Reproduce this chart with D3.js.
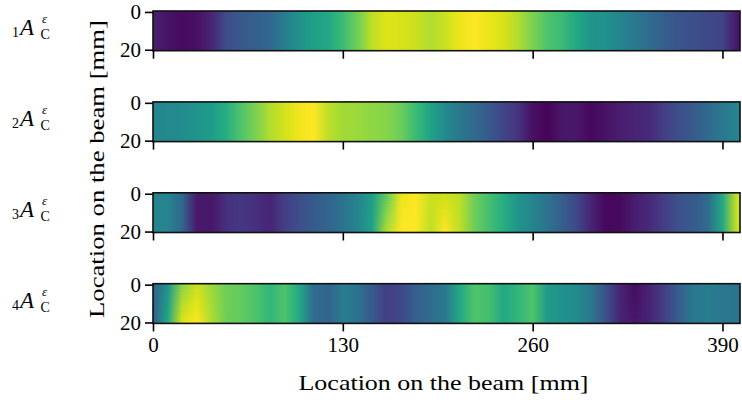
<!DOCTYPE html>
<html>
<head>
<meta charset="utf-8">
<script src="https://cdn.jsdelivr.net/npm/d3@7"></script>
<style>
  html, body { margin: 0; padding: 0; background: #fff; }
  svg { display: block; }
</style>
</head>
<body>
<svg id="chart" width="742" height="402"></svg>
<script>
// Sampling stations along the beam [mm]
const stations = d3.range(0, 401, 10);

// Normalised strain amplitude per component, along the top (0 mm) and bottom (20 mm) edge
const comp1Top = [0.09,0.05,0.03,0.04,0.10,0.23,0.27,0.30,0.33,0.42,0.50,0.56,0.60,0.68,0.78,0.90,0.95,0.94,0.92,0.88,0.92,0.97,1.00,0.97,0.94,0.88,0.80,0.72,0.68,0.60,0.52,0.50,0.45,0.40,0.35,0.30,0.26,0.24,0.22,0.20,0.06];
const comp1Bottom = comp1Top;

const comp2Top = [0.45,0.47,0.48,0.52,0.55,0.62,0.72,0.80,0.88,0.93,0.98,1.00,0.90,0.86,0.85,0.83,0.82,0.77,0.68,0.58,0.48,0.40,0.34,0.28,0.20,0.15,0.04,0.01,0.06,0.06,0.02,0.05,0.08,0.10,0.12,0.18,0.24,0.28,0.34,0.40,0.45];
const comp2Bottom = comp2Top;

const comp3Top = [0.45,0.45,0.33,0.07,0.06,0.14,0.16,0.14,0.10,0.18,0.24,0.28,0.32,0.38,0.45,0.55,0.75,0.97,1.00,0.92,0.92,0.90,0.78,0.70,0.62,0.52,0.45,0.38,0.30,0.22,0.10,0.02,0.03,0.08,0.12,0.18,0.25,0.28,0.35,0.60,0.92];
const comp3Bottom = [0.45,0.45,0.33,0.07,0.06,0.14,0.16,0.14,0.10,0.18,0.24,0.28,0.32,0.38,0.45,0.58,0.88,1.00,1.00,0.90,1.00,0.90,0.78,0.70,0.62,0.52,0.45,0.38,0.30,0.22,0.10,0.02,0.03,0.08,0.12,0.18,0.25,0.28,0.35,0.60,0.92];

const comp4Top = [0.30,0.50,0.82,0.92,0.85,0.78,0.76,0.72,0.66,0.72,0.60,0.35,0.32,0.42,0.38,0.28,0.18,0.22,0.30,0.35,0.40,0.60,0.72,0.70,0.60,0.66,0.72,0.55,0.50,0.48,0.40,0.25,0.10,0.03,0.10,0.18,0.30,0.40,0.42,0.40,0.38];
const comp4Bottom = [0.30,0.60,0.95,1.00,0.88,0.78,0.76,0.72,0.66,0.72,0.60,0.35,0.32,0.42,0.38,0.28,0.18,0.22,0.30,0.35,0.40,0.60,0.72,0.70,0.60,0.66,0.72,0.55,0.50,0.48,0.40,0.25,0.10,0.06,0.10,0.18,0.30,0.40,0.42,0.40,0.38];

const componentIndex = ["1", "2", "3", "4"];
const xTicks = [0, 130, 260, 390];
const yTicks = [0, 20];
const xLabel = "Location on the beam [mm]";
const yLabel = "Location on the beam [mm]";

const components = [
  { idx: componentIndex[0], top: comp1Top, bottom: comp1Bottom },
  { idx: componentIndex[1], top: comp2Top, bottom: comp2Bottom },
  { idx: componentIndex[2], top: comp3Top, bottom: comp3Bottom },
  { idx: componentIndex[3], top: comp4Top, bottom: comp4Bottom }
];

const FONT = "'Liberation Serif', 'Times New Roman', Tinos, 'DejaVu Serif', serif";

const svg = d3.select("#chart");
const defs = svg.append("defs");

const plotLeft = 153, plotRight = 740;
const stripTop0 = 11, stripStep = 90.9, stripH = 39.7;

const x = d3.scaleLinear().domain([0, 402]).range([plotLeft, plotRight]);
const color = d3.scaleSequential(d3.interpolateViridis).domain([0, 1]);
const bands = 14;

components.forEach((c, i) => {
  const top = stripTop0 + i * stripStep;
  const y = d3.scaleLinear().domain([-0.5, 20.5]).range([top, top + stripH]);
  const g = svg.append("g");

  // Field drawn as horizontal bands, each shaded by a gradient through the stations;
  // every band runs down to the strip bottom so the next one covers it without seams
  const bandH = stripH / bands;
  for (let b = 0; b < bands; b++) {
    const t = (b + 0.5) / bands;
    const id = `grad-${i}-${b}`;
    const grad = defs.append("linearGradient")
      .attr("id", id)
      .attr("gradientUnits", "userSpaceOnUse")
      .attr("x1", x(0)).attr("x2", x(402)).attr("y1", 0).attr("y2", 0);
    grad.selectAll("stop")
      .data(stations)
      .join("stop")
      .attr("offset", (s) => (x(s) - x(0)) / (x(402) - x(0)))
      .attr("stop-color", (s, k) => color(c.top[k] * (1 - t) + c.bottom[k] * t));
    g.append("rect")
      .attr("x", x(0))
      .attr("y", top + b * bandH)
      .attr("width", x(402) - x(0))
      .attr("height", stripH - b * bandH)
      .attr("fill", `url(#${id})`);
  }

  // Frame
  g.append("rect")
    .attr("x", x(0)).attr("y", top)
    .attr("width", x(402) - x(0)).attr("height", stripH)
    .attr("fill", "none").attr("stroke", "#111").attr("stroke-width", 1.6);

  // y axis
  const yAxis = d3.axisLeft(y).tickValues(yTicks).tickSize(8).tickPadding(4).tickFormat(d3.format("d"));
  const ya = g.append("g").attr("transform", `translate(${x(0)},0)`).call(yAxis)
    .attr("font-family", FONT).attr("font-size", 21);
  ya.select(".domain").remove();
  ya.selectAll(".tick line").attr("stroke", "#000").attr("stroke-width", 1.6);
  ya.selectAll(".tick text").attr("fill", "#000");

  // x axis ticks on every strip, labels on the last one only
  const last = i === components.length - 1;
  const xAxis = d3.axisBottom(x).tickValues(xTicks).tickSize(8).tickPadding(6)
    .tickFormat(last ? d3.format("d") : () => "");
  const xa = g.append("g").attr("transform", `translate(0,${top + stripH})`).call(xAxis)
    .attr("font-family", FONT).attr("font-size", 21);
  xa.select(".domain").remove();
  xa.selectAll(".tick line").attr("stroke", "#000").attr("stroke-width", 1.6);
  xa.selectAll(".tick text").attr("fill", "#000");

  // Row label  _iA_C^eps
  const cy = top + stripH / 2;
  const lab = svg.append("g").attr("font-family", FONT).attr("fill", "#000");
  lab.append("text").attr("x", 12).attr("y", cy + 6.5).attr("font-size", 14).text(c.idx);
  lab.append("text").attr("x", 20).attr("y", cy + 4.5).attr("font-size", 23).attr("font-style", "italic").text("A");
  lab.append("text").attr("x", 42).attr("y", cy - 7.5).attr("font-size", 13).attr("font-style", "italic").text("ε");
  lab.append("text").attr("x", 40.5).attr("y", cy + 8.5).attr("font-size", 14).text("C");
});

// Axis titles
svg.append("text")
  .attr("x", (plotLeft + plotRight) / 2 - 3)
  .attr("y", 390)
  .attr("text-anchor", "middle")
  .attr("font-family", FONT).attr("font-size", 22).attr("fill", "#000")
  .attr("textLength", 290).attr("lengthAdjust", "spacingAndGlyphs")
  .text(xLabel);

svg.append("text")
  .attr("transform", "translate(104,169) rotate(-90)")
  .attr("text-anchor", "middle")
  .attr("font-family", FONT).attr("font-size", 22).attr("fill", "#000")
  .attr("textLength", 298).attr("lengthAdjust", "spacingAndGlyphs")
  .text(yLabel);
</script>
</body>
</html>
